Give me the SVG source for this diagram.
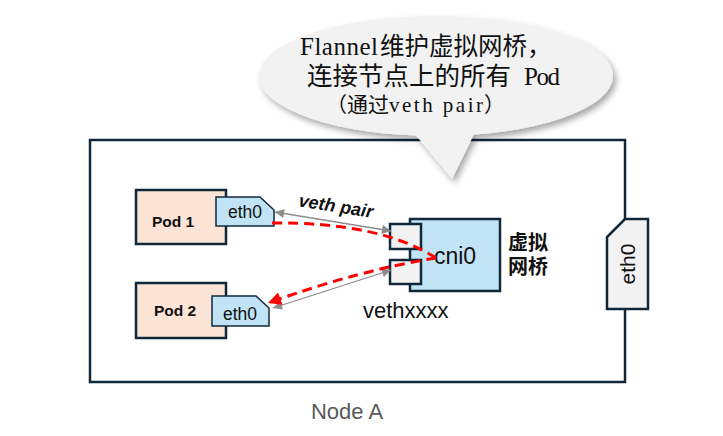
<svg xmlns="http://www.w3.org/2000/svg" width="723" height="436" viewBox="0 0 723 436">
<style>
.box{stroke:#10293a;stroke-width:2.5}
.tag{fill:#c0e4f5;stroke:#10293a;stroke-width:1.5}
.sans{font-family:"Liberation Sans",Arial,sans-serif}
.lbl{font-family:"Liberation Sans",Arial,sans-serif;font-size:17.5px;fill:#111;text-anchor:middle}
.pod{font-family:"Liberation Sans",Arial,sans-serif;font-size:15.5px;font-weight:bold;fill:#111;text-anchor:middle}
.ser{font-family:"Liberation Serif","Times New Roman",serif}
.cjk{font-family:"Noto Sans CJK SC",sans-serif}
.gray{stroke:#8c8c8c;stroke-width:1.3;fill:none}
.red{stroke:#ff0000;stroke-width:3;stroke-dasharray:10 6;fill:none}
</style>
<defs>
<marker id="ga" viewBox="0 0 10 10" refX="10" refY="5" markerWidth="11" markerHeight="9" markerUnits="userSpaceOnUse" orient="auto-start-reverse">
<path d="M0,0 L10,5 L0,10 z" fill="#8c8c8c"/>
</marker>
<marker id="ra" viewBox="0 0 10 10" refX="10" refY="5" markerWidth="15" markerHeight="13" markerUnits="userSpaceOnUse" orient="auto">
<path d="M0,0 L10,5 L0,10 z" fill="#ff0000"/>
</marker>
<filter id="sh" x="-10%" y="-10%" width="125%" height="130%">
<feGaussianBlur in="SourceAlpha" stdDeviation="3"/>
<feOffset dx="3" dy="4" result="b"/>
<feFlood flood-color="#000" flood-opacity="0.35"/>
<feComposite in2="b" operator="in"/>
<feMerge><feMergeNode/><feMergeNode in="SourceGraphic"/></feMerge>
</filter>
</defs>

<g id="nodeA">
<rect x="90" y="140" width="535" height="242" fill="#fff" class="box"/>
<text x="347" y="419" class="sans" font-size="22" fill="#595959" text-anchor="middle">Node A</text>
</g>

<g id="callout">
<g filter="url(#sh)">
<ellipse cx="436" cy="76" rx="177" ry="60" fill="#f2f2f2"/>
<polygon points="410,128 477,128 452,179" fill="#f2f2f2"/>
</g>
<text fill="#111"><tspan x="300" y="55" class="ser" font-size="25" textLength="78" lengthAdjust="spacing">Flannel</tspan><tspan x="380" y="55" class="cjk" font-size="24.5">维护虚拟网桥，</tspan><tspan x="307" y="85" class="cjk" font-size="25.5">连接节点上的所有</tspan><tspan x="524" y="85" class="ser" font-size="25" textLength="36" lengthAdjust="spacing">Pod</tspan><tspan x="326" y="112" class="cjk" font-size="21">（通过</tspan><tspan x="389" y="112" class="ser" font-size="21" textLength="94" lengthAdjust="spacing">veth pair</tspan><tspan x="484" y="112" class="cjk" font-size="21">）</tspan></text>
</g>

<g id="pod1">
<rect x="136" y="190" width="90" height="54" fill="#fbe3d6" class="box"/>
<text x="173" y="227" class="pod">Pod 1</text>
</g>
<g id="pod1-eth0">
<path d="M216,197 L260,197 L274,210 L274,226 L216,226 Z" class="tag"/>
<text x="245" y="218" class="lbl">eth0</text>
</g>

<g id="pod2">
<rect x="136" y="283" width="90" height="55" fill="#fbe3d6" class="box"/>
<text x="175" y="316" class="pod">Pod 2</text>
</g>
<g id="pod2-eth0">
<path d="M212,296 L256,296 L269,308 L269,326 L212,326 Z" class="tag"/>
<text x="240" y="320" class="lbl">eth0</text>
</g>

<g id="cni0">
<rect x="410" y="219" width="90" height="72" fill="#c0e4f5" class="box"/>
<rect x="390" y="224" width="31" height="25" fill="#f2f2f2" class="box"/>
<rect x="390" y="260" width="31" height="24" fill="#f2f2f2" class="box"/>
<text x="455" y="264" class="sans" font-size="23" fill="#111" text-anchor="middle">cni0</text>
<text class="cjk" font-size="20" font-weight="bold" fill="#111" text-anchor="middle"><tspan x="528" y="250">虚拟</tspan><tspan x="528" y="274">网桥</tspan></text>
<text x="363" y="318" class="sans" font-size="22" fill="#111">vethxxxx</text>
</g>

<g id="node-eth0">
<path d="M625,219 L648,219 L648,309 L607,309 L607,237 Z" fill="#f2f2f2" class="box"/>
<text x="0" y="0" class="sans" font-size="21" fill="#111" text-anchor="middle" transform="translate(635,264) rotate(-90)">eth0</text>
</g>

<g id="connectors">
<line x1="275" y1="212" x2="391" y2="231" class="gray" marker-start="url(#ga)" marker-end="url(#ga)"/>
<line x1="273" y1="308" x2="391" y2="270" class="gray" marker-start="url(#ga)" marker-end="url(#ga)"/>
<path d="M272,223 Q380,222 436,258" class="red"/>
<path d="M436,258 Q360,270 268,303" class="red" marker-end="url(#ra)"/>
<text x="0" y="0" class="sans" font-size="18" font-weight="bold" font-style="italic" fill="#111" text-anchor="middle" transform="translate(335,212) rotate(9)">veth pair</text>
</g>
</svg>
